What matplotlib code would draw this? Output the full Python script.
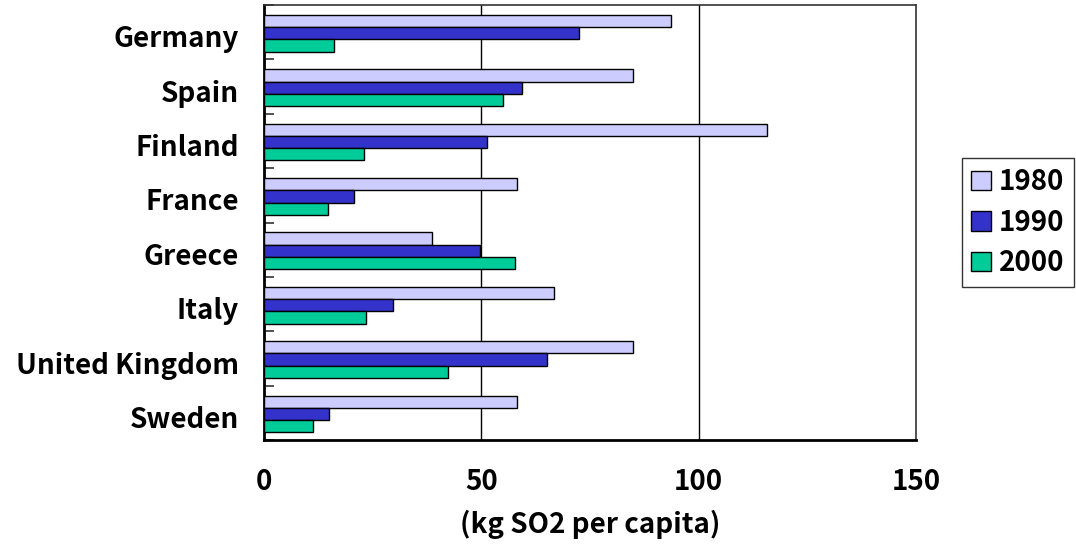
import numpy as np
import matplotlib.pyplot as plt
import matplotlib.transforms as mtransforms
from matplotlib.ticker import FixedLocator

plt.rcParams['font.family'] = ['Noto Sans CJK JP', 'DejaVu Sans']
plt.rcParams['font.weight'] = 'bold'

countries = ['Germany', 'Spain', 'Finland', 'France', 'Greece', 'Italy',
             'United Kingdom', 'Sweden']
years = ['1980', '1990', '2000']
so2_1980 = [93.6, 84.9, 115.7, 58.2, 38.6, 66.7, 84.9, 58.2]
so2_1990 = [72.5, 59.4, 51.3, 20.7, 49.7, 29.7, 65.1, 15.0]
so2_2000 = [16.1, 55.0, 23.0, 14.7, 57.7, 23.5, 42.3, 11.3]
colors = ['#ccccff', '#3333cc', '#00cc99']
fs = 20

fig = plt.figure(figsize=(10.76, 5.48), dpi=100)
ax = fig.add_axes([0.2454, 0.197, 0.6059, 0.7939])

n = len(countries)
pos = np.arange(n)[::-1]  # Germany on top
h = 0.225
for k, (vals, col, yr) in enumerate(zip([so2_1980, so2_1990, so2_2000], colors, years)):
    ax.barh(pos - 0.02 + h * (1 - k), vals, height=h, color=col,
            edgecolor='black', linewidth=1.0, label=yr, zorder=3)

ax.set_xlim(0, 150)
ax.set_ylim(-0.5, n - 0.5)
ax.set_xticks([0, 50, 100, 150])
ax.tick_params(axis='x', length=0, pad=20, labelsize=fs)
ax.set_yticks(pos)
ax.set_yticklabels(countries)
ax.tick_params(axis='y', which='major', length=0, pad=18, labelsize=fs)
ax.yaxis.set_minor_locator(FixedLocator(np.arange(-0.5, n, 1.0)))
ax.tick_params(axis='y', which='minor', direction='in', length=7, width=1.2,
               color='#333333')

# nudge category labels down a few pixels
shift = mtransforms.ScaledTranslation(0, -3 / 72, fig.dpi_scale_trans)
for lbl in ax.get_yticklabels():
    lbl.set_transform(lbl.get_transform() + shift)
for lbl in ax.get_xticklabels() + ax.get_yticklabels():
    lbl.set_fontweight('bold')

for x in (50, 100):
    ax.axvline(x, color='black', linewidth=1.0, zorder=1)

ax.spines['left'].set_linewidth(2.0)
ax.spines['bottom'].set_linewidth(2.0)
for s in ('top', 'right'):
    ax.spines[s].set_linewidth(1.2)
    ax.spines[s].set_color('#333333')

ax.set_xlabel('(kg SO2 per capita)', fontsize=fs, fontweight='bold', labelpad=10)

leg = ax.legend(loc='center left', bbox_to_anchor=(1.07, 0.5), fontsize=fs,
                frameon=True, fancybox=False, edgecolor='black',
                handlelength=0.7, handleheight=0.7, handletextpad=0.3,
                labelspacing=0.45, borderpad=0.35, borderaxespad=0)
leg.get_frame().set_linewidth(1.0)
for t in leg.get_texts():
    t.set_fontweight('bold')

fig.savefig('out.png', dpi=100)
